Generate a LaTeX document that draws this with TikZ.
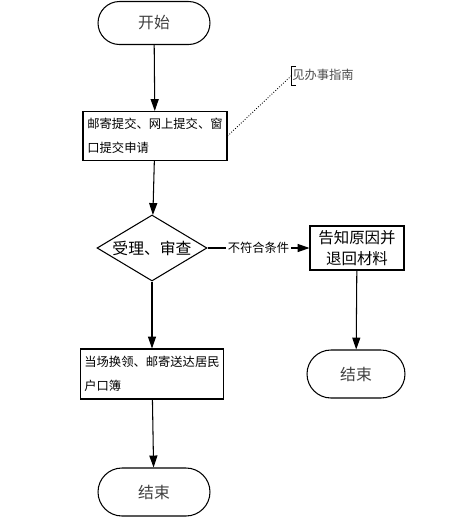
\documentclass[tikz,border=0pt]{standalone}
\usepackage{fontspec}
\setmainfont{Noto Sans CJK SC}
\usetikzlibrary{shapes.geometric,arrows.meta}

\begin{document}
\begin{tikzpicture}[x=0.02cm,y=-0.02cm,line width=0.6pt,>={Triangle[length=6.8pt,width=4.6pt]},
    every node/.style={draw=black,inner sep=2pt},
    term/.style={text=black!75,font=\fontsize{9}{11}\selectfont},
    stepbox/.style={minimum width=2.88cm,minimum height=0.98cm,align=left,font=\fontsize{7}{13.5}\selectfont},
    check/.style={diamond,aspect=1.67,inner sep=0pt,minimum width=2.2cm,minimum height=1.32cm,font=\fontsize{9}{11}\selectfont}]
        \useasboundingbox (0,0) rectangle (457,525);

        \node[term,rounded corners=0.43cm,minimum width=2.24cm,minimum height=0.86cm] (start) at (154,23) {开始};
        \node[stepbox] (apply) at (155,136) {邮寄提交、网上提交、窗\\口提交申请};
        \node[check] (review) at (152,248) {受理、审查};
        \node[stepbox,minimum width=1.88cm,minimum height=0.88cm,align=center,font=\fontsize{8.8}{11.5}\selectfont] (notify) at (357,248) {告知原因并\\退回材料};
        \node[term,rounded corners=0.48cm,minimum width=1.96cm,minimum height=0.96cm] (end2) at (356,374) {结束};
        \node[stepbox,minimum width=2.86cm,minimum height=1cm] (issue) at (152,374) {当场换领、邮寄送达居民\\户口簿};
        \node[term,rounded corners=0.48cm,minimum width=2.24cm,minimum height=0.96cm] (end1) at (154,492) {结束};

        \node[draw=none,text=black!70,font=\fontsize{7}{9}\selectfont,inner sep=1pt] (guide) at (323,75) {见办事指南};
        \coordinate (brk) at (291,76);

        \path [->] (start) edge (apply);
        \path [->] (apply) edge (review);
        \path [->] (review) edge node[draw=none,fill=white,inner sep=1pt,font=\fontsize{7}{9}\selectfont] {不符合条件} (notify);
        \path [->] (review) edge (issue);
        \path [->] (issue) edge (end1);
        \path [->] (notify) edge (end2);

        \draw[densely dotted,line width=0.5pt] (apply.east) -- (brk);
        \draw[line width=0.5pt] (296,66) -- (291,66) -- (291,85) -- (296,85);
    \end{tikzpicture}
\end{document}
